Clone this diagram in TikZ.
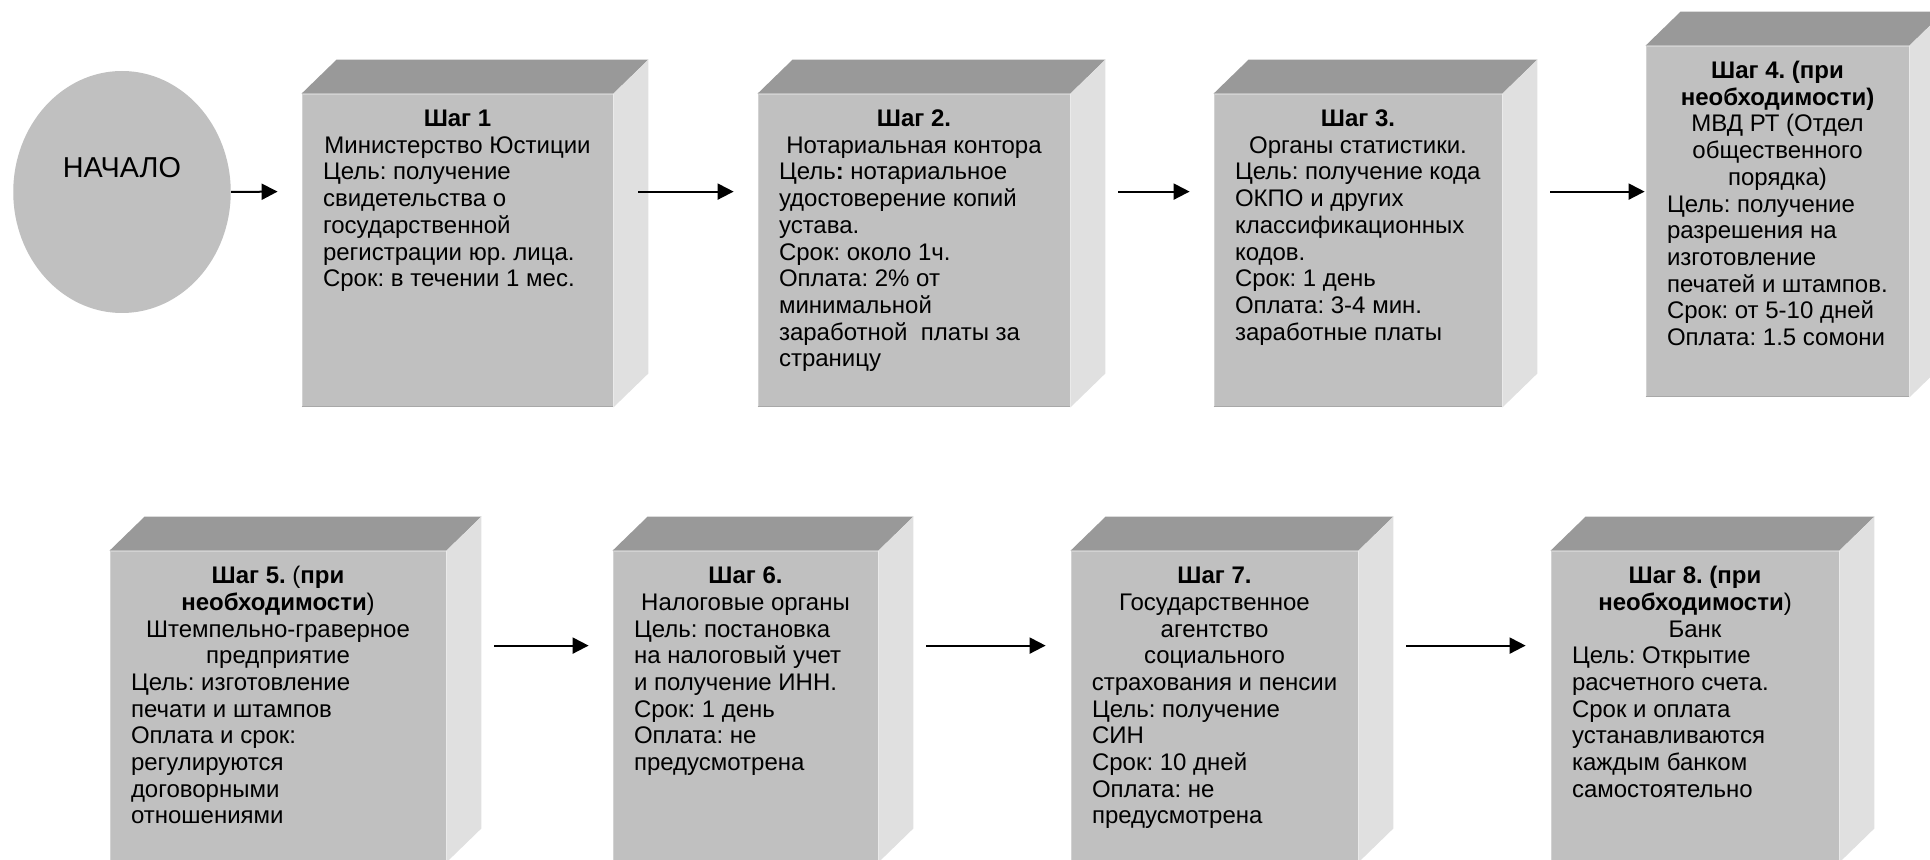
\documentclass[tikz,border=0pt]{standalone}
\usepackage{fontspec}
\setmainfont{Liberation Sans}
\usetikzlibrary{arrows.meta,calc,fit,shapes.geometric}
\definecolor{frontc}{HTML}{C0C0C0}
\definecolor{topc}{HTML}{999999}
\definecolor{sidec}{HTML}{E0E0E0}
\definecolor{edgelight}{HTML}{D2D2D2}
\definecolor{edgedark}{HTML}{A8A8A8}
\newcommand\lineC[1]{\hbox to \linewidth{\hss#1\hss}}
\newcommand\lineL[1]{\hbox to \linewidth{#1\hss}}
\newcommand\cubebox[5]{%
  \node[frontface, fit={(#2,#3) (#4,#5)}] (#1) {};
  \fill[topc] (#1.north west) -- ++(35,-34) -- ($(#1.north east)+(35,-34)$) -- (#1.north east) -- cycle;
  \fill[sidec] (#1.north east) -- ++(35,-34) -- ($(#1.south east)+(35,-34)$) -- (#1.south east) -- cycle;
  \draw[edgelight, line width=0.6pt] ($(#1.south west)+(1,0)$) -- ($(#1.north west)+(1,1)$) -- ($(#1.north east)+(0,1)$);
  \draw[edgedark, line width=0.8pt] ($(#1.south west)+(0,-1)$) -- ($(#1.south east)+(0,-1)$);
}
\begin{document}
\begin{tikzpicture}[x=0.5pt,y=-0.5pt,
  frontface/.style={fill=frontc, inner sep=0pt, draw=none},
  arr/.style={-{Triangle[length=8pt,width=8pt]}, line width=1pt},
  txt/.style={anchor=base west, inner sep=0pt, font=\fontsize{12}{13.35}\selectfont},
  startnode/.style={ellipse, fill=frontc, draw=none, minimum width=108.75pt, minimum height=121pt, inner sep=0pt}]
\useasboundingbox (0,0) rectangle (1930,860);
\clip (0,0) rectangle (1930,860);
\fill[white] (0,0) rectangle (1930,860);
\lineskiplimit=-20pt
\frenchspacing

% start
\node[startnode] (start) at (122,192) {};
\node[font=\fontsize{14.4}{16}\selectfont, inner sep=0pt] (starttxt) at (122,168) {НАЧАЛО};

% cubes
\cubebox{b1}{302}{94}{613}{407}
\cubebox{b2}{758}{94}{1070}{407}
\cubebox{b3}{1214}{94}{1502}{407}
\cubebox{b4}{1646}{46}{1909}{397}
\cubebox{b5}{110}{551}{446}{862}
\cubebox{b6}{613}{551}{878}{862}
\cubebox{b7}{1071}{551}{1358}{862}
\cubebox{b8}{1551}{551}{1839}{862}

% texts
\node[txt] (t1) at ($(b1.north west)+(21,33)$) {\begin{minipage}[t]{134.5pt}
\lineC{\textbf{Шаг 1}}
\lineC{Министерство Юстиции}
\lineL{Цель: получение}
\lineL{свидетельства о}
\lineL{государственной}
\lineL{регистрации юр. лица.}
\lineL{Срок: в течении 1 мес.}
\end{minipage}};

\node[txt] (t2) at ($(b2.north west)+(21,33)$) {\begin{minipage}[t]{135pt}
\lineC{\textbf{Шаг 2.}}
\lineC{Нотариальная контора}
\lineL{Цель\textbf{:} нотариальное}
\lineL{удостоверение копий}
\lineL{устава.}
\lineL{Срок: около 1ч.}
\lineL{Оплата: 2\% от}
\lineL{минимальной}
\lineL{заработной\ \ платы за}
\lineL{страницу}
\end{minipage}};

\node[txt] (t3) at ($(b3.north west)+(21,33)$) {\begin{minipage}[t]{123pt}
\lineC{\textbf{Шаг 3.}}
\lineC{Органы статистики.}
\lineL{Цель: получение кода}
\lineL{ОКПО и других}
\lineL{классификационных}
\lineL{кодов.}
\lineL{Срок: 1 день}
\lineL{Оплата: 3-4 мин.}
\lineL{заработные платы}
\end{minipage}};

\node[txt] (t4) at ($(b4.north west)+(21,33)$) {\begin{minipage}[t]{110.5pt}
\lineC{\textbf{Шаг 4. (при}}
\lineC{\textbf{необходимости)}}
\lineC{МВД РТ (Отдел}
\lineC{общественного}
\lineC{порядка)}
\lineL{Цель: получение}
\lineL{разрешения на}
\lineL{изготовление}
\lineL{печатей и штампов.}
\lineL{Срок: от 5-10 дней}
\lineL{Оплата: 1.5 сомони}
\end{minipage}};

\node[txt] (t5) at ($(b5.north west)+(21,33)$) {\begin{minipage}[t]{147pt}
\lineC{\textbf{Шаг 5.} (\textbf{при}}
\lineC{\textbf{необходимости})}
\lineC{Штемпельно-граверное}
\lineC{предприятие}
\lineL{Цель: изготовление}
\lineL{печати и штампов}
\lineL{Оплата и срок:}
\lineL{регулируются}
\lineL{договорными}
\lineL{отношениями}
\end{minipage}};

\node[txt] (t6) at ($(b6.north west)+(21,33)$) {\begin{minipage}[t]{111.5pt}
\lineC{\textbf{Шаг 6.}}
\lineC{Налоговые органы}
\lineL{Цель: постановка}
\lineL{на налоговый учет}
\lineL{и получение ИНН.}
\lineL{Срок: 1 день}
\lineL{Оплата: не}
\lineL{предусмотрена}
\end{minipage}};

\node[txt] (t7) at ($(b7.north west)+(21,33)$) {\begin{minipage}[t]{122.5pt}
\lineC{\textbf{Шаг 7.}}
\lineC{Государственное}
\lineC{агентство}
\lineC{социального}
\lineC{страхования и пенсии}
\lineL{Цель: получение}
\lineL{СИН}
\lineL{Срок: 10 дней}
\lineL{Оплата: не}
\lineL{предусмотрена}
\end{minipage}};

\node[txt] (t8) at ($(b8.north west)+(21,33)$) {\begin{minipage}[t]{123pt}
\lineC{\textbf{Шаг 8. (при}}
\lineC{\textbf{необходимости})}
\lineC{Банк}
\lineL{Цель: Открытие}
\lineL{расчетного счета.}
\lineL{Срок и оплата}
\lineL{устанавливаются}
\lineL{каждым банком}
\lineL{самостоятельно}
\end{minipage}};

% arrows
\draw[arr] (start.east) -- ($(b1.north west)+(-24,98)$);
\draw[arr] ($(b1.north east)+(25,98)$) -- ($(b2.north west)+(-24,98)$);
\draw[arr] ($(b2.north east)+(48,98)$) -- ($(b3.north west)+(-24,98)$);
\draw[arr] ($(b3.north east)+(48,98)$) -- ($(b4.north west)+(-1,146)$);
\draw[arr] ($(b5.north east)+(48,95)$) -- ($(b6.north west)+(-24,95)$);
\draw[arr] ($(b6.north east)+(48,95)$) -- ($(b7.north west)+(-25,95)$);
\draw[arr] ($(b7.north east)+(48,95)$) -- ($(b8.north west)+(-25,95)$);
\end{tikzpicture}
\end{document}
